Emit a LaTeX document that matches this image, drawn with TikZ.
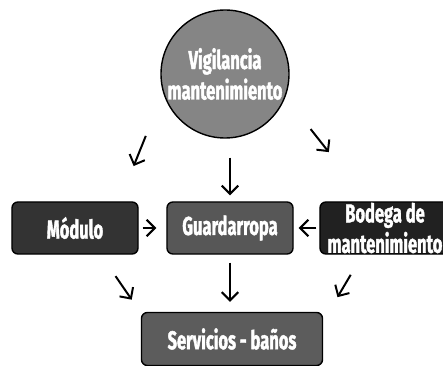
\documentclass[tikz,border=0pt]{standalone}
\usepackage{fontspec}
\setsansfont{Fira Sans}[FakeStretch=0.64,BoldFeatures={FakeBold=1.5}]
\usetikzlibrary{arrows.meta}
\tikzset{every node/.style={rectangle,rounded corners=5pt,draw,line width=1.2pt,inner sep=0pt,text=white,font=\sffamily\bfseries\fontsize{22}{26}\selectfont}}
\tikzset{c/.style={circle,align=center}}
\tikzset{b/.style={minimum width=3.78cm,minimum height=1.56cm,align=center}}
\tikzset{a/.style={line width=1.7pt,-{Straight Barb[length=7pt,width=14pt]}}}

\begin{document}
\begin{tikzpicture}[x=0.03cm,y=-0.03cm]
      \clip (0,0) rectangle (443,366);
      \node[c,fill=black!48,minimum size=3.84cm] (V) at (225,74) {Vigilancia\\mantenimiento};
      \node[b,fill=black!80] (M) at (75,228) {Módulo};
      \node[b,fill=black!66] (G) at (230,228) {Guardarropa};
      \node[b,fill=black!87,minimum width=3.9cm] (B) at (385,228) {Bodega de\\mantenimiento};
      \node[b,fill=black!64,minimum width=5.43cm,minimum height=1.59cm] (S) at (232,339) {Servicios - baños};
      \draw[a,shorten <=1.39cm,shorten >=1.14cm] (V.197) -- (M.31);
      \draw[a,shorten <=0.57cm,shorten >=0.18cm] (V.south -| G.north) -- (G.north);
      \draw[a,shorten <=1.22cm,shorten >=1.88cm] (V.339) -- (B.123);
      \draw[a,shorten <=0.12cm,shorten >=0.3cm] (M.east) -- (G.west);
      \draw[a,shorten <=0.09cm,shorten >=0.15cm] (B.west) -- (G.east);
      \draw[a,shorten <=0.78cm,shorten >=0.48cm] (M.314) -- (S.164);
      \draw[a,shorten <=0.24cm,shorten >=0.3cm] (G.south) -- (G.south |- S.north);
      \draw[a,shorten <=0.70cm,shorten >=0.84cm] (B.230) -- (S.11);
    \end{tikzpicture}
\end{document}
